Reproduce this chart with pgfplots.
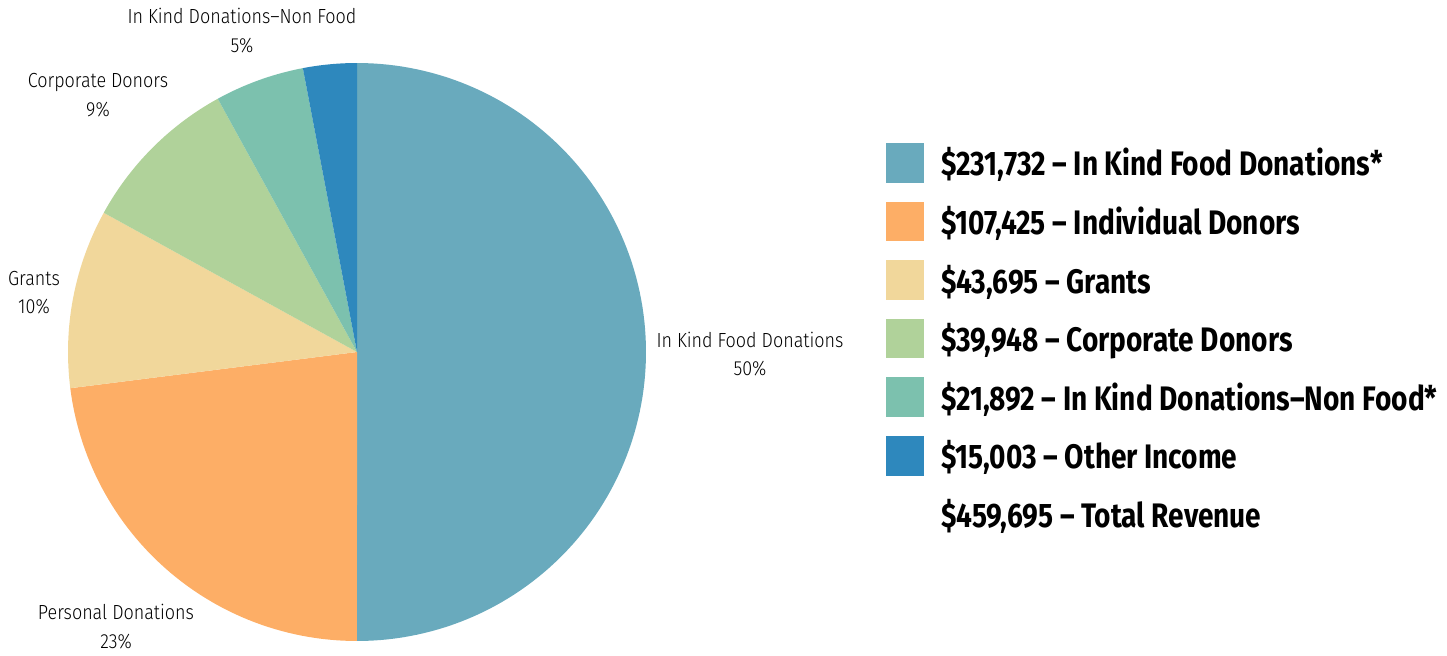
\documentclass[border=0pt]{standalone}
\usepackage{pgfplots}
\pgfplotsset{compat=1.18}
\usepackage{fontspec}
\setmainfont{Fira Sans}
\newfontfamily\labfont[FakeStretch=0.88]{Fira Sans Light}
\newfontfamily\legfont[FakeStretch=0.825]{Fira Sans}
\definecolor{cFood}{HTML}{69AABD}
\definecolor{cPers}{HTML}{FDAE66}
\definecolor{cGrant}{HTML}{F1D79B}
\definecolor{cCorp}{HTML}{B0D29A}
\definecolor{cNonF}{HTML}{7CC1AE}
\definecolor{cOther}{HTML}{2E88BD}
\begin{document}
\begin{tikzpicture}
\begin{axis}[width=723.5pt,height=327.5pt,scale only axis,
  xmin=0,xmax=1447,ymin=0,ymax=655,hide axis,clip=false,
  legend cell align=left,
  legend image code/.code={\fill[#1,draw=none] (0pt,-3.3pt) rectangle (19pt,16.5pt);},
  legend style={draw=none,fill=none,at={(0.6123,0.7817)},anchor=north west,
    inner sep=0pt,outer sep=0pt,
    font=\legfont\bfseries\fontsize{17}{20}\selectfont,
    row sep=9.5pt,column sep=0pt,
    nodes={inner sep=0pt,anchor=base west,text height=16.5pt,text depth=3.3pt},
    /tikz/every odd column/.append style={column sep=8.5pt}},
]
% slice percentages (clockwise from top)
\pgfmathsetmacro\aA{90}
\pgfmathsetmacro\aB{\aA-50*3.6}
\pgfmathsetmacro\aC{\aB-23*3.6}
\pgfmathsetmacro\aD{\aC-10*3.6}
\pgfmathsetmacro\aE{\aD-9*3.6}
\pgfmathsetmacro\aF{\aE-5*3.6}
\pgfmathsetmacro\aG{\aF-3*3.6}
\addplot[forget plot,draw=none,fill=cFood,domain=\aB:\aA,samples=121]
  ({357+289*cos(x)},{303+289*sin(x)}) -- (axis cs:357,303) -- cycle;
\addplot[forget plot,draw=none,fill=cPers,domain=\aC:\aB,samples=61]
  ({357+289*cos(x)},{303+289*sin(x)}) -- (axis cs:357,303) -- cycle;
\addplot[forget plot,draw=none,fill=cGrant,domain=\aD:\aC,samples=31]
  ({357+289*cos(x)},{303+289*sin(x)}) -- (axis cs:357,303) -- cycle;
\addplot[forget plot,draw=none,fill=cCorp,domain=\aE:\aD,samples=31]
  ({357+289*cos(x)},{303+289*sin(x)}) -- (axis cs:357,303) -- cycle;
\addplot[forget plot,draw=none,fill=cNonF,domain=\aF:\aE,samples=21]
  ({357+289*cos(x)},{303+289*sin(x)}) -- (axis cs:357,303) -- cycle;
\addplot[forget plot,draw=none,fill=cOther,domain=\aG:\aF,samples=21]
  ({357+289*cos(x)},{303+289*sin(x)}) -- (axis cs:357,303) -- cycle;

\addlegendimage{fill=cFood}\addlegendentry{\$231,732 – In Kind Food Donations*}
\addlegendimage{fill=cPers}\addlegendentry{\$107,425 – Individual Donors}
\addlegendimage{fill=cGrant}\addlegendentry{\$43,695 – Grants}
\addlegendimage{fill=cCorp}\addlegendentry{\$39,948 – Corporate Donors}
\addlegendimage{fill=cNonF}\addlegendentry{\$21,892 – In Kind Donations–Non Food*}
\addlegendimage{fill=cOther}\addlegendentry{\$15,003 – Other Income}
\addlegendimage{empty legend}\addlegendentry{\$459,695 – Total Revenue}

\tikzset{lab/.style={align=center,inner sep=0pt,font=\labfont\fontsize{10.2}{14.2}\selectfont}}
\node[lab] at (axis cs:242,624.5) {In Kind Donations–Non Food\\5\%};
\node[lab] at (axis cs:98,560) {Corporate Donors\\9\%};
\node[lab] at (axis cs:34,362.5) {Grants\\10\%};
\node[lab] at (axis cs:750,301) {In Kind Food Donations\\50\%};
\node[lab] at (axis cs:116,28.5) {Personal Donations\\23\%};
\end{axis}
\pgfresetboundingbox
\path[use as bounding box] (current axis.south west) rectangle (current axis.north east);
\end{tikzpicture}
\end{document}
